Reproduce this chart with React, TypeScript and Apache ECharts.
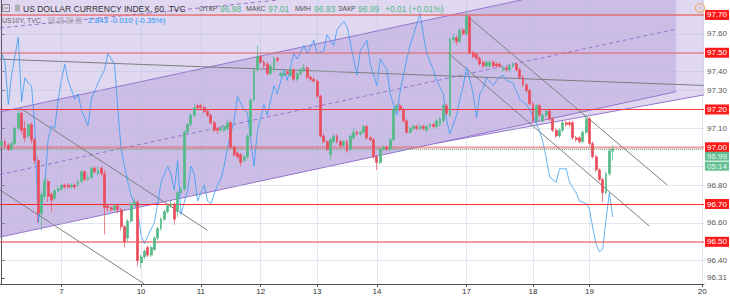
import React, { useEffect, useRef } from "react";
import * as echarts from "echarts";

// ---------- data ----------
const SLOTS = 212; // candle slots on the time axis (incl. empty right margin)

const opens = [
  97.01, 97.03, 97.01, 96.99, 97.02, 97.10, 97.18, 97.10, 97.06, 97.12,
  97.04, 96.93, 96.65, 96.74, 96.82, 96.75, 96.73, 96.77, 96.78, 96.80,
  96.80, 96.79, 96.80, 96.80, 96.82, 96.87, 96.83, 96.84, 96.89, 96.86,
  96.89, 96.86, 96.69, 96.68, 96.67, 96.69, 96.67, 96.58, 96.52, 96.61,
  96.70, 96.71, 96.39, 96.42, 96.47, 96.43, 96.46, 96.52, 96.57, 96.62,
  96.66, 96.69, 96.70, 96.66, 96.76, 96.78, 97.08, 97.12, 97.17, 97.22,
  97.22, 97.21, 97.19, 97.17, 97.13, 97.10, 97.09, 97.09, 97.10, 97.13,
  97.00, 96.97, 96.96, 96.93, 96.95, 97.06, 97.25, 97.41, 97.48, 97.45,
  97.44, 97.39, 97.41, 97.47, 97.38, 97.38, 97.40, 97.38, 97.41, 97.36,
  97.39, 97.41, 97.42, 97.37, 97.36, 97.35, 97.27, 97.06, 97.03, 96.96,
  97.03, 97.06, 97.03, 97.01, 97.03, 96.99, 97.05, 97.08, 97.07, 97.08,
  97.11, 97.05, 97.04, 96.95, 96.92, 96.99, 97.00, 96.99, 97.04, 97.20,
  97.22, 97.20, 97.14, 97.08, 97.10, 97.11, 97.10, 97.11, 97.09, 97.11,
  97.12, 97.11, 97.12, 97.14, 97.22, 97.17, 97.57, 97.58, 97.56, 97.62,
  97.60, 97.69, 97.50, 97.49, 97.47, 97.45, 97.43, 97.43, 97.45, 97.44,
  97.44, 97.41, 97.42, 97.41, 97.43, 97.44, 97.41, 97.37, 97.33, 97.30,
  97.23, 97.14, 97.22, 97.14, 97.17, 97.19, 97.15, 97.09, 97.06, 97.09,
  97.13, 97.13, 97.13, 97.05, 97.05, 97.03, 97.08, 97.15, 97.02, 96.95,
  96.88, 96.83, 96.76, 96.86, 96.98,
];
const closes = [
  97.03, 97.01, 96.99, 97.02, 97.10, 97.18, 97.09, 97.05, 97.12, 97.04,
  96.93, 96.65, 96.75, 96.82, 96.74, 96.72, 96.77, 96.78, 96.80, 96.79,
  96.79, 96.80, 96.79, 96.82, 96.87, 96.83, 96.84, 96.89, 96.87, 96.88,
  96.86, 96.68, 96.68, 96.67, 96.69, 96.67, 96.58, 96.50, 96.61, 96.70,
  96.71, 96.40, 96.42, 96.45, 96.43, 96.47, 96.52, 96.57, 96.62, 96.66,
  96.69, 96.70, 96.62, 96.76, 96.78, 97.08, 97.12, 97.17, 97.21, 97.21,
  97.21, 97.19, 97.17, 97.13, 97.09, 97.09, 97.10, 97.11, 97.13, 97.00,
  96.96, 96.95, 96.92, 96.95, 97.06, 97.25, 97.41, 97.48, 97.45, 97.43,
  97.39, 97.43, 97.47, 97.46, 97.39, 97.39, 97.39, 97.41, 97.36, 97.39,
  97.41, 97.42, 97.37, 97.36, 97.35, 97.27, 97.06, 97.03, 96.99, 97.04,
  97.06, 97.03, 97.01, 97.03, 96.98, 97.06, 97.08, 97.07, 97.08, 97.11,
  97.05, 97.04, 96.95, 96.92, 96.99, 97.00, 96.99, 97.04, 97.20, 97.22,
  97.20, 97.14, 97.08, 97.10, 97.11, 97.10, 97.11, 97.10, 97.11, 97.12,
  97.11, 97.14, 97.15, 97.22, 97.18, 97.57, 97.58, 97.56, 97.62, 97.60,
  97.69, 97.50, 97.48, 97.47, 97.44, 97.43, 97.45, 97.45, 97.43, 97.43,
  97.43, 97.42, 97.41, 97.43, 97.44, 97.41, 97.37, 97.33, 97.30, 97.23,
  97.14, 97.22, 97.17, 97.17, 97.19, 97.15, 97.09, 97.06, 97.09, 97.13,
  97.12, 97.12, 97.05, 97.04, 97.03, 97.08, 97.15, 97.02, 96.95, 96.88,
  96.83, 96.76, 96.86, 96.98, 96.99,
];
const lows = [
  97.00, 97.00, 96.98, 96.98, 97.01, 97.09, 97.07, 97.03, 97.05, 97.02,
  96.91, 96.60, 96.56, 96.72, 96.71, 96.66, 96.72, 96.76, 96.77, 96.78,
  96.78, 96.78, 96.78, 96.79, 96.81, 96.82, 96.82, 96.83, 96.86, 96.85,
  96.85, 96.54, 96.66, 96.66, 96.66, 96.65, 96.56, 96.47, 96.50, 96.60,
  96.69, 96.37, 96.36, 96.41, 96.42, 96.42, 96.45, 96.51, 96.56, 96.61,
  96.65, 96.68, 96.59, 96.63, 96.75, 96.77, 97.07, 97.11, 97.16, 97.20,
  97.20, 97.18, 97.16, 97.12, 97.08, 97.07, 97.08, 97.08, 97.09, 96.99,
  96.95, 96.94, 96.90, 96.92, 96.94, 97.05, 97.24, 97.40, 97.44, 97.42,
  97.38, 97.38, 97.40, 97.45, 97.37, 97.37, 97.38, 97.37, 97.35, 97.35,
  97.38, 97.40, 97.36, 97.35, 97.34, 97.26, 97.05, 97.02, 96.98, 96.93,
  97.02, 97.02, 97.00, 97.00, 96.97, 96.98, 97.04, 97.06, 97.06, 97.07,
  97.04, 97.03, 96.94, 96.88, 96.91, 96.98, 96.98, 96.98, 97.03, 97.19,
  97.19, 97.13, 97.07, 97.07, 97.09, 97.09, 97.09, 97.09, 97.08, 97.10,
  97.10, 97.10, 97.11, 97.13, 97.17, 97.16, 97.55, 97.54, 97.55, 97.59,
  97.59, 97.49, 97.47, 97.46, 97.43, 97.42, 97.42, 97.42, 97.42, 97.42,
  97.42, 97.40, 97.40, 97.40, 97.42, 97.40, 97.36, 97.32, 97.29, 97.22,
  97.13, 97.13, 97.16, 97.13, 97.16, 97.14, 97.08, 97.05, 97.05, 97.08,
  97.11, 97.11, 97.04, 97.03, 97.02, 97.02, 97.07, 97.01, 96.94, 96.87,
  96.82, 96.71, 96.75, 96.85, 96.93,
];
const highs = [
  97.04, 97.04, 97.02, 97.03, 97.11, 97.20, 97.19, 97.14, 97.13, 97.13,
  97.05, 96.95, 96.77, 96.84, 96.83, 96.76, 96.78, 96.80, 96.81, 96.81,
  96.81, 96.81, 96.81, 96.83, 96.88, 96.88, 96.86, 96.90, 96.90, 96.90,
  96.90, 96.88, 96.70, 96.69, 96.70, 96.70, 96.68, 96.59, 96.62, 96.71,
  96.73, 96.72, 96.43, 96.46, 96.48, 96.48, 96.53, 96.58, 96.63, 96.67,
  96.70, 96.72, 96.71, 96.77, 96.79, 97.09, 97.13, 97.18, 97.23, 97.23,
  97.23, 97.22, 97.20, 97.18, 97.14, 97.11, 97.11, 97.12, 97.15, 97.14,
  97.01, 96.98, 96.97, 96.96, 97.07, 97.26, 97.42, 97.54, 97.49, 97.46,
  97.45, 97.44, 97.48, 97.48, 97.40, 97.40, 97.41, 97.42, 97.42, 97.40,
  97.42, 97.44, 97.43, 97.38, 97.37, 97.36, 97.28, 97.07, 97.04, 97.05,
  97.07, 97.07, 97.04, 97.04, 97.04, 97.07, 97.10, 97.09, 97.09, 97.12,
  97.12, 97.06, 97.05, 96.96, 97.00, 97.01, 97.01, 97.05, 97.21, 97.23,
  97.23, 97.21, 97.15, 97.11, 97.12, 97.12, 97.12, 97.12, 97.12, 97.13,
  97.13, 97.15, 97.16, 97.23, 97.23, 97.58, 97.60, 97.59, 97.63, 97.63,
  97.72, 97.70, 97.51, 97.50, 97.48, 97.46, 97.46, 97.46, 97.46, 97.45,
  97.45, 97.43, 97.43, 97.44, 97.45, 97.45, 97.42, 97.38, 97.34, 97.31,
  97.24, 97.23, 97.23, 97.18, 97.20, 97.20, 97.16, 97.10, 97.10, 97.14,
  97.14, 97.14, 97.14, 97.06, 97.06, 97.09, 97.17, 97.16, 97.03, 96.96,
  96.89, 96.84, 96.87, 96.99, 97.01,
];

// US10Y overlay: candle slot index -> yield
const us10yIndex = [
  0, 1, 2, 3, 5, 6, 7, 8, 9, 10, 11, 13, 14, 15, 16, 17, 18, 19, 20, 22,
  23, 24, 26, 27, 28, 29, 31, 32, 34, 35, 36, 38, 39, 41, 42, 43, 44, 46, 47, 48,
  50, 51, 52, 53, 54, 56, 57, 58, 59, 61, 62, 63, 65, 66, 67, 68, 70, 71, 73, 74,
  75, 76, 77, 79, 80, 82, 83, 85, 86, 88, 89, 91, 92, 94, 95, 97, 98, 100, 101, 103,
  104, 106, 107, 108, 110, 111, 113, 114, 116, 117, 119, 120, 122, 123, 125, 126, 127, 128, 130, 131,
  133, 134, 135, 137, 138, 139, 140, 142, 143, 144, 145, 146, 148, 149, 151, 152, 154, 155, 156, 158,
  159, 161, 162, 163, 164, 165, 167, 168, 170, 171, 173, 174, 176, 177, 178, 179, 180, 181, 182, 183,
  184,
];
const us10yValue = [
  2.904, 2.901, 2.885, 2.896, 2.910, 2.886, 2.895, 2.893, 2.892, 2.876, 2.841, 2.855, 2.872, 2.877, 2.876, 2.887, 2.894, 2.900, 2.894, 2.887,
  2.889, 2.883, 2.877, 2.887, 2.890, 2.893, 2.898, 2.904, 2.900, 2.883, 2.868, 2.856, 2.851, 2.845, 2.836, 2.833, 2.836, 2.841, 2.848, 2.856,
  2.862, 2.859, 2.853, 2.864, 2.844, 2.853, 2.862, 2.859, 2.849, 2.855, 2.849, 2.848, 2.855, 2.857, 2.862, 2.869, 2.879, 2.888, 2.883, 2.882,
  2.872, 2.862, 2.875, 2.885, 2.881, 2.892, 2.889, 2.898, 2.894, 2.904, 2.902, 2.907, 2.904, 2.909, 2.904, 2.905, 2.911, 2.907, 2.913, 2.916,
  2.914, 2.902, 2.896, 2.905, 2.909, 2.900, 2.892, 2.902, 2.898, 2.889, 2.881, 2.890, 2.902, 2.907, 2.915, 2.919, 2.911, 2.904, 2.898, 2.894,
  2.889, 2.879, 2.874, 2.881, 2.887, 2.892, 2.899, 2.889, 2.880, 2.889, 2.891, 2.895, 2.892, 2.894, 2.896, 2.894, 2.893, 2.890, 2.887, 2.885,
  2.883, 2.878, 2.875, 2.871, 2.865, 2.858, 2.856, 2.861, 2.861, 2.856, 2.852, 2.849, 2.848, 2.846, 2.839, 2.833, 2.830, 2.831, 2.842, 2.852,
  2.843,
];

const dayTickIdx = [18, 42, 60, 78, 95, 113, 140, 160, 177, 211];
const dayTickLabels = ["7", "10", "11", "12", "13", "14", "17", "18", "19", "20"];

const priceTickLabels = [96.31, 96.4, 96.6, 96.8, 97.1, 97.3, 97.4, 97.6];
const gridPrices = [96.4, 96.5, 96.6, 96.7, 96.8, 96.9, 97.0, 97.1, 97.2, 97.3, 97.4, 97.5, 97.6, 97.7];
const levelPrices = [97.7, 97.5, 97.2, 97.0, 96.7, 96.5];
const priceMin = 96.277;
const priceMax = 97.779;
const us10yMin = 2.818;
const us10yMax = 2.924;
const lastUs10y = 2.843;
const us10yChange = "-0.010 (-0.35%)";
const dxyChangePct = "+0.01%";
const barTimeLeft = "05:14";

// drawings, anchored in (candle slot index, price)
const channelUpper = [[-0.5, 97.187], [203.1, 97.955]];
const channelLower = [[-0.5, 96.525], [203.1, 97.294]];
const channelMid = [[-0.5, 96.856], [203.1, 97.625]];
const outerLower = [[131.4, 97.023], [211.5, 97.277]];
const topDashed = [[-0.5, 97.631], [83.5, 97.779]];
const grayFlat = [[-0.5, 97.466], [211.5, 97.327]];
const grayLeftUpper = [[5.5, 97.208], [61.9, 96.562]];
const grayLeftLower = [[-0.5, 96.774], [43.0, 96.277]];
const grayRightUpper = [[139.8, 97.7], [200.4, 96.801]];
const grayRightLower = [[134.4, 97.499], [195.0, 96.584]];

const lightArea = [[-0.5, priceMax], [211.5, priceMax], [211.5, 97.277], [131.4, 97.023], [-0.5, 96.525]];
const channelArea = [channelUpper[0], channelUpper[1], channelLower[1], channelLower[0]];

// ---------- styles ----------
const FONT = '"Liberation Sans", Arial, sans-serif';
const UP = "#53b987";
const DOWN = "#eb4d5c";
const BLUE = "#2196f3";
const GRID = "rgba(170,190,215,0.35)";
const LABEL_RED = "#ff1a1a";
const areaPolygons = [lightArea, channelArea];
const areaFills = ["rgba(126,87,194,0.24)", "rgba(126,87,194,0.20)"];
const levelStyles = [
  { color: "rgba(239,83,80,0.55)", width: 2 },
  { color: "rgba(239,83,80,0.6)", width: 1.5 },
  { color: "rgba(255,40,40,0.9)", width: 1 },
  { color: "rgba(239,83,80,0.45)", width: 2.5 },
  { color: "rgba(255,30,30,0.95)", width: 1 },
  { color: "rgba(239,83,80,0.55)", width: 2 },
];
const drawingStyles: Record<string, any> = {
  channel: { color: "#9575cd", width: 1 },
  dash: { color: "#9575cd", width: 1, type: [4, 3] },
  trend: { color: "#7d7d7d", width: 1 },
};
const drawings = [
  { pts: channelUpper, kind: "channel" },
  { pts: channelLower, kind: "channel" },
  { pts: outerLower, kind: "channel" },
  { pts: channelMid, kind: "dash" },
  { pts: topDashed, kind: "dash" },
  { pts: grayFlat, kind: "trend" },
  { pts: grayLeftUpper, kind: "trend" },
  { pts: grayLeftLower, kind: "trend" },
  { pts: grayRightUpper, kind: "trend" },
  { pts: grayRightLower, kind: "trend" },
];

function buildOption() {
  const categories = Array.from({ length: SLOTS }, (_, i) => String(i));
  const candleData = opens.map((o, i) => [o, closes[i], lows[i], highs[i]]);
  const last = opens.length - 1;
  const lastClose = closes[last];
  const chg = closes[last] - closes[last - 1];

  const txt = (x: number, y: number, text: string, fill: string, size = 9) => ({
    type: "text",
    x,
    y,
    z: 100,
    silent: true,
    style: { text, fill, fontSize: size, fontFamily: FONT, verticalAlign: "middle", align: "left" },
  });

  const boxLabel = (bg: string, text: string, offset: number[] = [0, 0]) => ({
    show: true,
    position: "end",
    distance: 1,
    offset,
    formatter: text,
    color: "#fff",
    backgroundColor: bg,
    fontSize: 8,
    fontFamily: FONT,
    padding: [1, 2, 0, 2],
    lineHeight: 9,
  });

  return {
    animation: false,
    backgroundColor: "#ffffff",
    grid: { left: 0, right: 23, top: 0, bottom: 13 },
    xAxis: [
      { type: "category", data: categories, boundaryGap: true, show: false, position: "top" },
      {
        type: "value",
        min: -0.5,
        max: SLOTS - 0.5,
        position: "bottom",
        axisLine: { show: true, lineStyle: { color: "#555", width: 1 } },
        axisTick: { show: true, customValues: dayTickIdx, length: 3, lineStyle: { color: "#555" } },
        axisLabel: {
          customValues: dayTickIdx,
          formatter: (v: number) => dayTickLabels[dayTickIdx.indexOf(Math.round(v))] ?? "",
          fontSize: 8,
          color: "#333",
          margin: 3,
          fontFamily: FONT,
        },
        splitLine: { show: false },
      },
    ],
    yAxis: [
      {
        type: "value",
        position: "right",
        min: priceMin,
        max: priceMax,
        axisLine: { show: true, lineStyle: { color: "#555" } },
        axisTick: { show: true, customValues: priceTickLabels, length: 3, lineStyle: { color: "#555" } },
        axisLabel: {
          customValues: priceTickLabels,
          formatter: (v: number) => v.toFixed(2),
          fontSize: 8,
          color: "#555",
          margin: 3,
          fontFamily: FONT,
        },
        splitLine: { show: false },
      },
      { type: "value", min: us10yMin, max: us10yMax, show: false, position: "right" },
    ],
    series: [
      {
        name: "grid",
        type: "line",
        xAxisIndex: 1,
        yAxisIndex: 0,
        data: [[-0.5, priceMin]],
        symbol: "none",
        lineStyle: { opacity: 0 },
        silent: true,
        z: 0,
        markLine: {
          silent: true,
          symbol: ["none", "none"],
          label: { show: false },
          lineStyle: { color: GRID, width: 1, type: "solid" },
          data: [...gridPrices.map((p) => ({ yAxis: p })), ...dayTickIdx.map((i) => ({ xAxis: i }))],
        },
      },
      {
        name: "areas",
        type: "custom",
        xAxisIndex: 1,
        yAxisIndex: 0,
        z: 1,
        silent: true,
        clip: true,
        data: areaPolygons.map((_, i) => [i, priceMin]),
        renderItem: (params: any, api: any) => {
          const poly = areaPolygons[params.dataIndex];
          return {
            type: "polygon",
            silent: true,
            shape: { points: poly.map((p) => api.coord(p)) },
            style: { fill: areaFills[params.dataIndex], stroke: null },
          };
        },
      },
      {
        name: "levels",
        type: "line",
        xAxisIndex: 1,
        yAxisIndex: 0,
        data: [[-0.5, priceMin]],
        symbol: "none",
        lineStyle: { opacity: 0 },
        silent: true,
        z: 2,
        markLine: {
          silent: true,
          symbol: ["none", "none"],
          data: levelPrices.map((p, k) => ({
            yAxis: p,
            lineStyle: { ...levelStyles[k], type: "solid" },
            label: boxLabel(LABEL_RED, p.toFixed(2)),
          })),
        },
      },
      ...drawings.map((d) => ({
        type: "line",
        xAxisIndex: 1,
        yAxisIndex: 0,
        data: d.pts,
        symbol: "none",
        silent: true,
        z: 3,
        lineStyle: drawingStyles[d.kind],
      })),
      {
        name: "US10Y",
        type: "line",
        xAxisIndex: 1,
        yAxisIndex: 1,
        data: us10yIndex.map((x, i) => [x, us10yValue[i]]),
        symbol: "none",
        silent: true,
        z: 4,
        lineStyle: { color: "rgba(33,150,243,0.7)", width: 1 },
        markLine: {
          silent: true,
          symbol: ["none", "none"],
          lineStyle: { opacity: 0 },
          data: [{ yAxis: lastUs10y, label: boxLabel(BLUE, lastUs10y.toFixed(3), [0, -2]) }],
        },
      },
      {
        name: "DXY",
        type: "candlestick",
        xAxisIndex: 0,
        yAxisIndex: 0,
        data: candleData,
        barWidth: "72%",
        z: 5,
        itemStyle: {
          color: UP,
          color0: DOWN,
          borderColor: UP,
          borderColor0: DOWN,
          borderWidth: 0.7,
        },
        markLine: {
          silent: true,
          symbol: ["none", "none"],
          data: [
            {
              yAxis: lastClose,
              lineStyle: { color: UP, width: 1, type: "dotted", opacity: 0.9 },
              label: {
                show: true,
                position: "end",
                distance: 1,
                offset: [0, 12],
                formatter: `{a|${lastClose.toFixed(2)}}\n{b|${barTimeLeft}}`,
                rich: {
                  a: { backgroundColor: UP, color: "#fff", fontSize: 8, fontFamily: FONT, padding: [1, 2, 0, 2], lineHeight: 10 },
                  b: { backgroundColor: UP, color: "#fff", fontSize: 8, fontFamily: FONT, padding: [1, 2, 0, 2], lineHeight: 10 },
                },
              },
            },
          ],
        },
      },
    ],
    graphic: {
      elements: [
        { type: "rect", z: 100, silent: true, shape: { x: 2.5, y: 4.5, width: 7, height: 7 }, style: { fill: "none", stroke: "#888", lineWidth: 1 } },
        { type: "line", z: 100, silent: true, shape: { x1: 4, y1: 8, x2: 8, y2: 8 }, style: { stroke: "#888", lineWidth: 1 } },
        { type: "rect", z: 100, silent: true, shape: { x: 15, y: 4.5, width: 5, height: 7 }, style: { fill: "#b0b0b0" } },
        txt(23, 8.5, "US DOLLAR CURRENCY INDEX, 60, TVC", "#333", 8.5),
        txt(199, 8.5, "ОТКР", "#555", 7),
        txt(220, 8.5, opens[last].toFixed(2), UP, 8.5),
        txt(246, 8.5, "МАКС", "#555", 7),
        txt(268, 8.5, highs[last].toFixed(2), UP, 8.5),
        txt(295, 8.5, "МИН", "#555", 7),
        txt(314, 8.5, lows[last].toFixed(2), UP, 8.5),
        txt(338, 8.5, "ЗАКР", "#555", 7),
        txt(358, 8.5, lastClose.toFixed(2), UP, 8.5),
        txt(385, 8.5, `+${chg.toFixed(2)} (${dxyChangePct})`, UP, 8.5),
        txt(2, 20.5, "US10Y, TVC", "#666", 7),
        ...[48, 57, 66, 75].map((x) => ({
          type: "rect",
          z: 100,
          silent: true,
          shape: { x, y: 17, width: 7, height: 7 },
          style: { fill: "rgba(150,150,150,0.35)" },
        })),
        txt(88, 20.5, lastUs10y.toFixed(3), BLUE, 8),
        txt(110, 20.5, us10yChange, BLUE, 8),
        { type: "circle", z: 100, silent: true, shape: { cx: 700, cy: 8, r: 4.5 }, style: { fill: "none", stroke: "#f5a04a", lineWidth: 1 } },
        { type: "text", z: 100, silent: true, x: 700, y: 8.5, style: { text: "!", fill: "#f5a04a", fontSize: 7, fontFamily: FONT, align: "center", verticalAlign: "middle" } },
      ],
    },
  };
}

export default function App() {
  const ref = useRef<HTMLDivElement>(null);
  useEffect(() => {
    if (!ref.current) return;
    const chart = echarts.init(ref.current, null, { renderer: "svg" });
    chart.setOption(buildOption() as any);
    return () => chart.dispose();
  }, []);
  return (
    <div
      ref={ref}
      style={{ position: "absolute", left: 0, top: 0, width: 730, height: 297, background: "#fff" }}
    />
  );
}
